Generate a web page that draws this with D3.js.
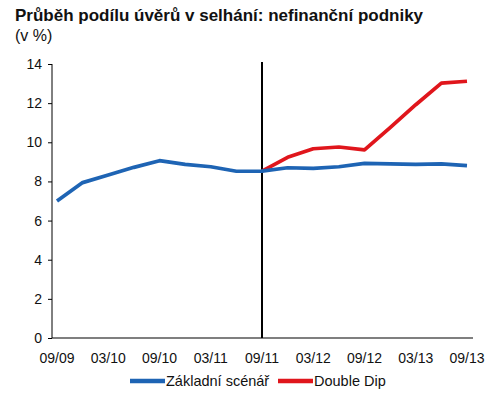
<!DOCTYPE html>
<html><head><meta charset="utf-8">
<script src="https://cdn.jsdelivr.net/npm/d3@7/dist/d3.min.js"></script>
<style>body{margin:0;background:#fff;} svg{display:block;font-family:"Liberation Sans",Arial,sans-serif;}</style>
</head><body>
<script>
const quarters = ["09/09","12/09","03/10","06/10","09/10","12/10","03/11","06/11","09/11","12/11","03/12","06/12","09/12","12/12","03/13","06/13","09/13"];
const tickLabels = ["09/09","03/10","09/10","03/11","09/11","03/12","09/12","03/13","09/13"];
const baseline = [7.0,7.94,8.33,8.72,9.06,8.87,8.75,8.52,8.53,8.70,8.67,8.75,8.92,8.90,8.87,8.90,8.81];
const doubleDip = [null,null,null,null,null,null,null,null,8.53,9.23,9.67,9.76,9.61,10.75,11.92,13.02,13.12];
const yTicks = [0,2,4,6,8,10,12,14];
const seriesNames = ["Základní scénář","Double Dip"];
const colors = ["#1E64B4","#E0161C"];

const W=492,H=394;
const svg=d3.select("body").append("svg").attr("width",W).attr("height",H);
svg.append("text").attr("x",15).attr("y",21).attr("font-size",17).attr("font-weight","bold").attr("fill","#111")
  .text("Průběh podílu úvěrů v selhání: nefinanční podniky");
svg.append("text").attr("x",15).attr("y",41).attr("font-size",16).attr("fill","#111").text("(v %)");

const x=d3.scalePoint().domain(quarters).range([57,467]);
const y=d3.scaleLinear().domain([0,14]).range([338,64]);

const yAxis=svg.append("g").attr("transform","translate(52,0)")
  .call(d3.axisLeft(y).tickValues(yTicks).tickSize(4).tickPadding(6));
yAxis.select(".domain").attr("stroke","#000").attr("d","M0,64V338");
yAxis.selectAll(".tick line").attr("stroke","#000");
yAxis.selectAll("text").attr("font-size",14).attr("fill","#111").attr("font-family","Liberation Sans, Arial, sans-serif");

svg.append("line").attr("x1",52).attr("x2",473).attr("y1",338).attr("y2",338).attr("stroke","#000").attr("stroke-width",1.2);

const xl=svg.append("g");
xl.selectAll("text").data(tickLabels).join("text")
  .attr("x",d=>x(d)).attr("y",363).attr("text-anchor","middle").attr("font-size",14).attr("fill","#111").text(d=>d);

svg.append("line").attr("x1",x("09/11")).attr("x2",x("09/11")).attr("y1",y(14)-2).attr("y2",338).attr("stroke","#000").attr("stroke-width",2);

const line=d3.line().defined(d=>d!=null).x((d,i)=>x(quarters[i])).y(d=>y(d));
svg.append("path").attr("d",line(doubleDip)).attr("fill","none").attr("stroke",colors[1]).attr("stroke-width",3.7).attr("stroke-linejoin","round");
svg.append("path").attr("d",line(baseline)).attr("fill","none").attr("stroke",colors[0]).attr("stroke-width",3.7).attr("stroke-linejoin","round");

const leg=[{n:seriesNames[0],c:colors[0],x:130},{n:seriesNames[1],c:colors[1],x:278}];
leg.forEach(l=>{
  svg.append("line").attr("x1",l.x).attr("x2",l.x+35).attr("y1",381).attr("y2",381).attr("stroke",l.c).attr("stroke-width",4.5);
  svg.append("text").attr("x",l.x+36).attr("y",386).attr("font-size",14.5).attr("fill","#111").text(l.n);
});
</script>
</body></html>
